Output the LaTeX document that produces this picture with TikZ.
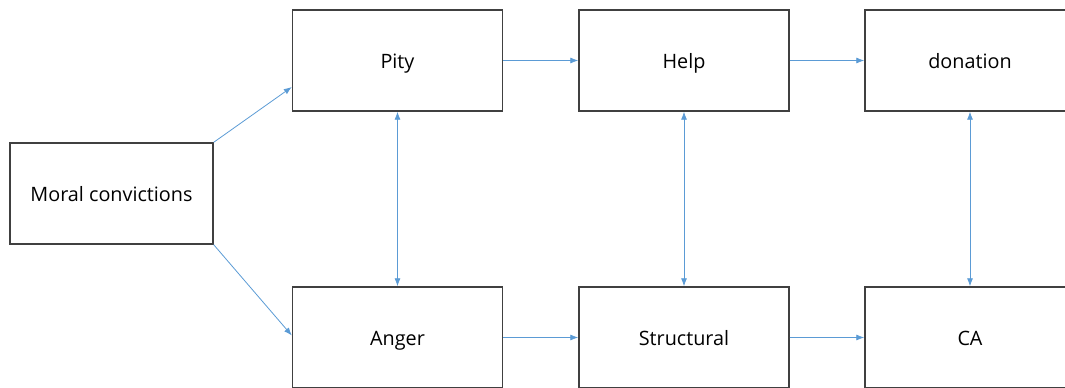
\documentclass[tikz,border=0pt]{standalone}
\usepackage{fontspec}
\setmainfont{Open Sans}
\usetikzlibrary{arrows.meta}
\definecolor{arrowblue}{RGB}{91,155,213}
\definecolor{boxgray}{RGB}{64,64,64}
\tikzset{
  box/.style={draw=boxgray, line width=1.4pt, rectangle, inner sep=0pt,
    minimum width=210pt, minimum height=101pt, text height=16pt, text depth=0pt,
    font=\fontsize{19.8}{23}\selectfont},
  conn/.style={draw=arrowblue, line width=0.8pt, -{Latex[length=8pt,width=6pt]}},
  biconn/.style={draw=arrowblue, line width=0.8pt, {Latex[length=8pt,width=6pt]}-{Latex[length=8pt,width=6pt]}}
}
\begin{document}
\begin{tikzpicture}[x=1pt,y=-1pt]
\useasboundingbox (0,0) rectangle (1065,388);
\clip (0,0) rectangle (1065,388);
\node[box, minimum width=203pt] (mc) at (111.5,193.5) {Moral convictions};
\node[box] (pity) at (397.5,60.5) {Pity};
\node[box] (help) at (684,60.5) {Help};
\node[box] (don) at (970,60.5) {donation};
\node[box] (anger) at (397.5,337.5) {Anger};
\node[box] (struct) at (684,337.5) {Structural};
\node[box] (ca) at (970,337.5) {CA};
\draw[conn] (mc.north east) -- ([yshift=-26.5pt]pity.west);
\draw[conn] (mc.south east) -- ([yshift=2pt]anger.west);
\draw[conn] (pity) -- (help);
\draw[conn] (help) -- (don);
\draw[conn] (anger) -- (struct);
\draw[conn] (struct) -- (ca);
\draw[biconn] (pity) -- (anger);
\draw[biconn] (help) -- (struct);
\draw[biconn] (don) -- (ca);
\end{tikzpicture}
\end{document}
